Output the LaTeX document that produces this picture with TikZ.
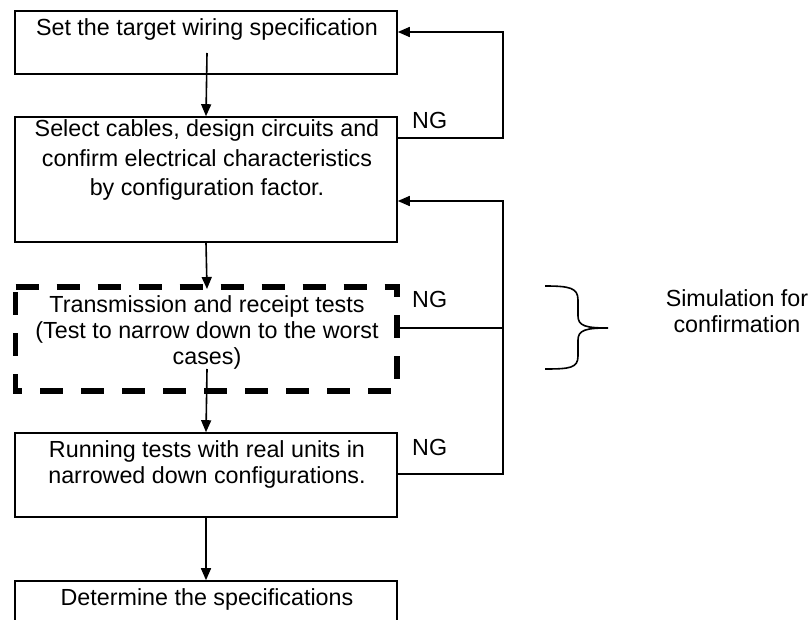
\documentclass[tikz,border=0pt]{standalone}
\usepackage{fontspec}
\setmainfont{Liberation Sans}
\usetikzlibrary{arrows.meta}
\begin{document}
\begin{tikzpicture}[x=1pt,y=-1pt,
  every node/.style={font=\fontsize{23.3}{27}\selectfont, inner sep=0pt},
  stepbox/.style={draw, line width=1.6pt},
  flow/.style={line width=1.6pt, -{Triangle[length=12pt,width=10pt]}},
  back/.style={line width=1.6pt},
  line/.style={anchor=base}
]
\useasboundingbox (0,0) rectangle (809,620);

% process boxes
\node[stepbox, minimum width=382pt, minimum height=63pt] (b1) at (206,42.5) {};
\node[stepbox, minimum width=382pt, minimum height=125pt] (b2) at (206,179.5) {};
\node[stepbox, minimum width=382pt, minimum height=84pt] (b4) at (206,475) {};
\node[stepbox, minimum width=382pt, minimum height=80pt] (b5) at (206,621) {};

% dashed simulation box
\coordinate (d1) at (15.5,287);
\coordinate (d2) at (397,287);
\coordinate (d3) at (397,391);
\coordinate (d4) at (15.5,391);
\draw[line width=5.5pt, dash pattern=on 23pt off 18pt] (d1) -- (d2) -- (d3) -- (d4) -- cycle;

% box texts
\node[line] (t1) at (207,36) {Set the target wiring specification};
\node[line] (t2a) at (207,137) {Select cables, design circuits and};
\node[line] (t2b) at (207,167) {confirm electrical characteristics};
\node[line] (t2c) at (207,196) {by configuration factor.};
\node[line] (t3a) at (207,313) {Transmission and receipt tests};
\node[line] (t3b) at (207,339) {(Test to narrow down to the worst};
\node[line] (t3c) at (207,365) {cases)};
\node[line] (t4a) at (207,457) {Running tests with real units in};
\node[line] (t4b) at (207,483) {narrowed down configurations.};
\node[line] (t5) at (207,605) {Determine the specifications};

% NG labels
\node[line, anchor=base west] (ng1) at (412,129) {NG};
\node[line, anchor=base west] (ng2) at (412,308) {NG};
\node[line, anchor=base west] (ng3) at (412,455) {NG};

% side note
\node[line] (s1) at (737,307) {Simulation for};
\node[line] (s2) at (737,333) {confirmation};

% main flow
\coordinate (a1) at (207,53);
\draw[flow] (a1) -- (b2.north);
\draw[flow] (b2.south) -- (207,289);
\coordinate (a3) at (207,369);
\draw[flow] (a3) -- (b4.north);
\draw[flow] (b4.south) -- (b5.north);

% feedback loops
\coordinate (r1) at (503,138);
\coordinate (r1t) at (503,32);
\draw[flow] (b2.east |- r1) -- (r1) -- (r1t) -- (b1.east |- r1t);
\coordinate (r2) at (503,328);
\coordinate (r3) at (503,474);
\coordinate (r3t) at (503,201);
\draw[back] (397,328) -- (r2);
\draw[flow] (b4.east |- r3) -- (r3) -- (r3t) -- (b2.east |- r3t);

% brace
\draw[line width=1.6pt] (545,286) .. controls (570,286) and (578,288) .. (578,300)
  -- (578,316) .. controls (578,326) and (586,328) .. (608,328)
  .. controls (586,328) and (578,330) .. (578,340)
  -- (578,356) .. controls (578,368) and (570,369) .. (545,369);
\end{tikzpicture}
\end{document}
